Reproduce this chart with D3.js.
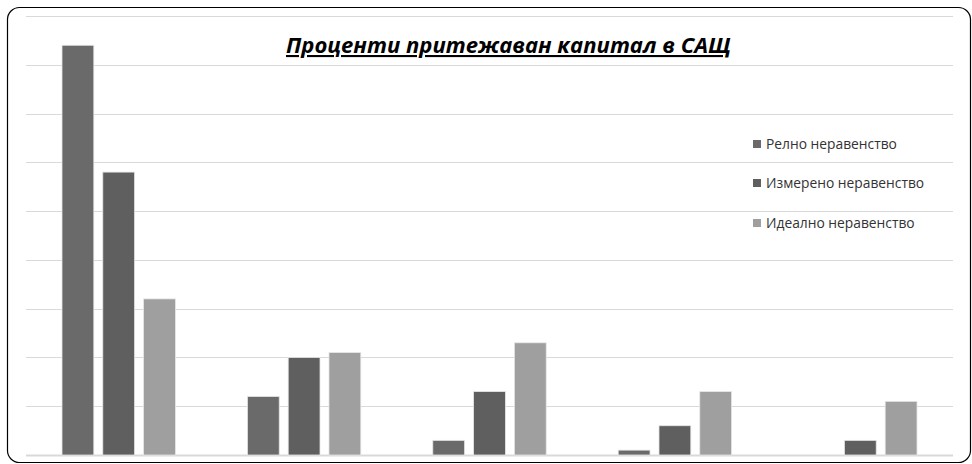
<!DOCTYPE html>
<html>
<head>
<meta charset="utf-8">
<script src="https://cdn.jsdelivr.net/npm/d3@7"></script>
<style>
  body { margin: 0; background: #fff; }
  svg { font-family: "Open Sans", "DejaVu Sans", sans-serif; }
</style>
</head>
<body>
<div id="chart"></div>
<script>
// data
var groups = ["Top 20%", "Second 20%", "Third 20%", "Fourth 20%", "Bottom 20%"];
var seriesNames = ["Релно неравенство", "Измерено неравенство", "Идеално неравенство"];
var realValues = [84, 12, 3, 1, 0];
var measuredValues = [58, 20, 13, 6, 3];
var idealValues = [32, 21, 23, 13, 11];
var gridTicks = [0, 10, 20, 30, 40, 50, 60, 70, 80, 90];
var colors = ["#6a6a6a", "#5f5f5f", "#9f9f9f"];

var series = [realValues, measuredValues, idealValues];

var W = 972, H = 464;
var margin = {top: 16, right: 19, bottom: 9, left: 26},
    width = W - margin.left - margin.right,
    height = H - margin.top - margin.bottom;

var root = d3.select("#chart").append("svg")
  .attr("width", W)
  .attr("height", H);

// rounded frame
root.append("rect")
  .attr("x", 7.5).attr("y", 7.5)
  .attr("width", 963).attr("height", 455)
  .attr("rx", 12).attr("ry", 12)
  .attr("fill", "#fff")
  .attr("stroke", "#000")
  .attr("stroke-width", 1.2);

var svg = root.append("g")
  .attr("transform", "translate(" + margin.left + "," + margin.top + ")");

var y = d3.scaleLinear()
  .domain([0, 90])
  .range([height, 0]);

var x0 = d3.scaleBand()
  .domain(groups)
  .range([0, width])
  .paddingInner(0)
  .paddingOuter(0);

var x1 = d3.scaleBand()
  .domain(d3.range(series.length))
  .range([36, x0.bandwidth() - 36])
  .paddingInner(0.22)
  .paddingOuter(0);

// gridlines
svg.append("g")
  .selectAll("line")
  .data(gridTicks)
  .enter()
  .append("line")
    .attr("x1", 0)
    .attr("x2", width)
    .attr("y1", function(d) { return Math.round(y(d)) + 0.5; })
    .attr("y2", function(d) { return Math.round(y(d)) + 0.5; })
    .attr("stroke", "#d9d9d9")
    .attr("stroke-width", function(d) { return d === 0 ? 2 : 1; });

// bars
var groupSel = svg.selectAll(".grp")
  .data(groups)
  .enter()
  .append("g")
    .attr("class", "grp")
    .attr("transform", function(d) { return "translate(" + x0(d) + ",0)"; });

groupSel.selectAll("rect")
  .data(function(d, gi) {
    return series.map(function(s, si) { return {si: si, v: s[gi]}; });
  })
  .enter()
  .append("rect")
    .attr("x", function(d) { return x1(d.si); })
    .attr("width", x1.bandwidth())
    .attr("y", function(d) { return y(d.v); })
    .attr("height", function(d) { return height - y(d.v); })
    .attr("fill", function(d) { return colors[d.si]; })
    .attr("stroke", function(d) { return d.v > 0 ? "#e6e6e6" : "none"; })
    .attr("stroke-width", 0.8);

// title
root.append("text")
  .attr("x", 286)
  .attr("y", 53)
  .attr("font-size", "21px")
  .attr("font-weight", "bold")
  .attr("font-style", "italic")
  .attr("text-decoration", "underline")
  .attr("textLength", 445)
  .attr("lengthAdjust", "spacingAndGlyphs")
  .attr("fill", "#000")
  .text("Проценти притежаван капитал в САЩ");

// legend
var legendY = [149, 188, 228];
var legend = root.append("g");
seriesNames.forEach(function(name, i) {
  legend.append("rect")
    .attr("x", 753)
    .attr("y", legendY[i] - 9)
    .attr("width", 8)
    .attr("height", 8)
    .attr("fill", colors[i]);
  legend.append("text")
    .attr("x", 766)
    .attr("y", legendY[i])
    .attr("font-size", "13.8px")
    .attr("fill", "#333")
    .text(name);
});
</script>
</body>
</html>
